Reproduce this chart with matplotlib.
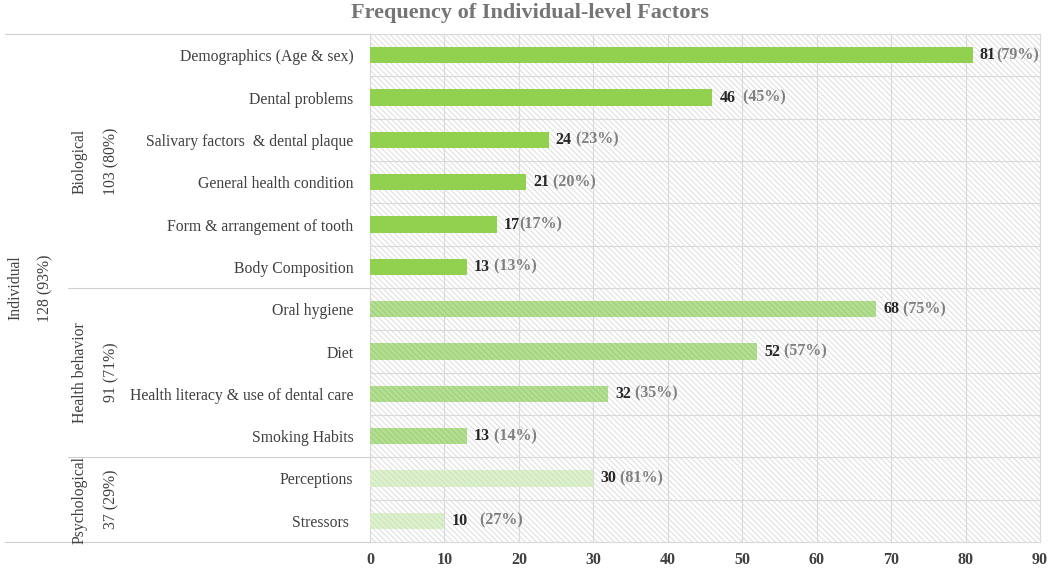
import matplotlib.pyplot as plt
from matplotlib.transforms import blended_transform_factory
from matplotlib.lines import Line2D

plt.rcParams['font.family'] = ['Liberation Serif', 'DejaVu Serif']
plt.rcParams['hatch.linewidth'] = 0.7

# datos
categorias = ['Demographics (Age & sex)', 'Dental problems', 'Salivary factors  & dental plaque',
              'General health condition', 'Form & arrangement of tooth', 'Body Composition',
              'Oral hygiene', 'Diet', 'Health literacy & use of dental care', 'Smoking Habits',
              'Perceptions', 'Stressors ']
valores = [81, 46, 24, 21, 17, 13, 68, 52, 32, 13, 30, 10]
porcentajes = ['(79%)', '  (45%)', ' (23%)', ' (20%)', '(17%)', ' (13%)',
               ' (75%)', ' (57%)', ' (35%)', ' (14%)', ' (81%)', '   (27%)']
grupos = ['Biological', 'Health behavior', 'Psychological']
grupos_total = ['103 (80%)', '91 (71%)', '37 (29%)']
grupos_n = [6, 4, 2]
nivel = 'Individual'
nivel_total = '128 (93%)'
ticks = [0, 10, 20, 30, 40, 50, 60, 70, 80, 90]

rayas = '\\' * 6
estilos = [('#92D050', None, None), ('#B4DE94', '#9BD070', rayas), ('#DDF0CF', '#C9E6B3', rayas)]

fig = plt.figure(figsize=(10.53, 5.71), dpi=100)
W, H = 1053, 571
ax = fig.add_axes([370 / W, 1 - 542 / H, 670 / W, 508 / H])

# fondo rayado
ax.add_patch(plt.Rectangle((0, 0), 1, 1, transform=ax.transAxes, facecolor='white',
                           edgecolor='#DDDDDD', hatch=rayas, linewidth=0, zorder=0))

y = list(range(len(categorias)))
i = 0
for g, n in enumerate(grupos_n):
    color, hcolor, hatch = estilos[g]
    ys = y[i:i + n]
    vs = valores[i:i + n]
    if hatch:
        ax.barh(ys, vs, height=0.38, facecolor=color, edgecolor=hcolor, hatch=hatch,
                linewidth=0, zorder=3)
    else:
        ax.barh(ys, vs, height=0.38, color=color, linewidth=0, zorder=3)
    i += n

for k, v in enumerate(valores):
    t = ax.annotate(str(v), xy=(v, k), xytext=(5, 0), textcoords='offset points',
                    va='center', ha='left', fontsize=11.5, fontweight='bold', color='#262626')
    ax.annotate(porcentajes[k], xy=(1, 0.5), xycoords=t, va='center', ha='left',
                fontsize=11.5, fontweight='bold', color='#7F7F7F')

ax.set_xlim(0, 90)
ax.set_ylim(len(categorias) - 0.5, -0.5)
ax.set_xticks(ticks)
ax.set_xticklabels([str(t) for t in ticks], fontsize=11.5, fontweight='bold', color='#404040')
ax.set_yticks(y)
ax.set_yticklabels(categorias, fontsize=11.3, color='#404040')
ax.set_yticks([b + 0.5 for b in y[:-1]], minor=True)
ax.tick_params(axis='y', length=0, pad=12)
ax.tick_params(axis='x', length=0, pad=7)
ax.tick_params(axis='y', which='minor', length=0)
ax.grid(axis='x', color='#D9D9D9', linewidth=0.8, zorder=1)
ax.grid(axis='y', which='minor', color='#D9D9D9', linewidth=0.8, zorder=1)
ax.set_axisbelow(True)
for s in ax.spines.values():
    s.set_color('#D9D9D9')
    s.set_linewidth(0.8)

# ejes de categorias a la izquierda
tr = blended_transform_factory(fig.transFigure, ax.transData)
lc = '#D0D0D0'
fig.add_artist(Line2D([5 / W, 370 / W], [-0.5, -0.5], transform=tr, color=lc, lw=0.8))
fig.add_artist(Line2D([5 / W, 370 / W], [len(categorias) - 0.5] * 2, transform=tr, color=lc, lw=0.8))
inicio = 0
for g, n in enumerate(grupos_n):
    centro = inicio + (n - 1) / 2
    fig.text(80 / W, centro, grupos[g], transform=tr, rotation=90, ha='center', va='center',
             fontsize=11.3, color='#404040')
    fig.text(111 / W, centro, grupos_total[g], transform=tr, rotation=90, ha='center', va='center',
             fontsize=11.3, color='#404040')
    inicio += n
    if inicio < len(categorias):
        fig.add_artist(Line2D([68 / W, 370 / W], [inicio - 0.5] * 2, transform=tr, color=lc, lw=0.8))

centro = (len(categorias) - 1) / 2
fig.text(15 / W, centro, nivel, transform=tr, rotation=90, ha='center', va='center',
         fontsize=11.3, color='#404040')
fig.text(45 / W, centro, nivel_total, transform=tr, rotation=90, ha='center', va='center',
         fontsize=11.3, color='#404040')

fig.text(530 / W, 1 - 13 / H, 'Frequency of Individual-level Factors', ha='center', va='center',
         fontsize=16, fontweight='bold', color='#757575')

fig.savefig('out.png', dpi=100)
